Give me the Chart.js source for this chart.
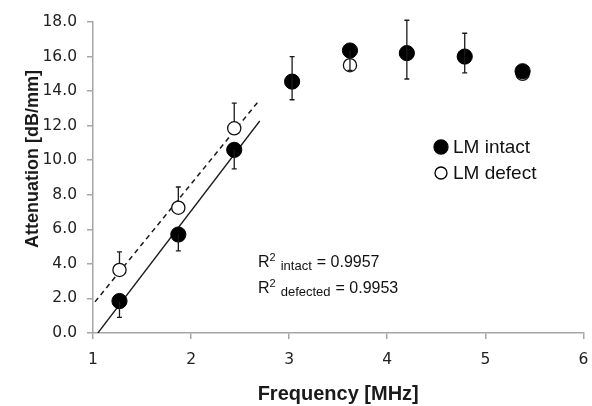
<!DOCTYPE html>
<html>
<head>
<meta charset="utf-8">
<script src="https://cdn.jsdelivr.net/npm/chart.js@4/dist/chart.umd.min.js"></script>
<style>
html,body{margin:0;padding:0;background:#fff;}
#wrap{width:592px;height:406px;}
</style>
</head>
<body>
<div id="wrap"><canvas id="c" width="592" height="406"></canvas></div>
<script>
// ---- data ----
const freqMHz        = [1.27, 1.87, 2.44, 3.03, 3.62, 4.20, 4.79, 5.38];
const intactAtt      = [1.85, 5.7, 10.6, 14.55, 16.35, 16.2, 16.0, 15.15];
const intactErrHigh  = [null, null, null, 16.0, null, 18.1, 17.35, null];
const intactErrLow   = [0.9, 4.75, 9.5, 13.5, 15.2, 14.7, 15.05, null];
const defectAtt      = [3.65, 7.25, 11.85, 14.55, 15.5, 16.2, 16.0, 15.0];
const defectErrHigh  = [4.7, 8.45, 13.3, null, null, null, null, null];
const defectErrLow   = [null, null, null, null, null, null, null, null];
const fitIntactX     = [1.05, 2.70];
const fitIntactY     = [0, 12.27];
const fitDefectX     = [1.02, 2.70];
const fitDefectY     = [1.8, 13.5];
const seriesLabels   = ['LM intact', 'LM defect'];
const r2Labels       = [['intact', '0.9957'], ['defected', '0.9953']];
const xTitle = 'Frequency [MHz]';
const yTitle = 'Attenuation [dB/mm]';

const toPts = (xs, ys) => xs.map((x, i) => ({x: x, y: ys[i]}));
const errInfo = {
  0: {hi: intactErrHigh, lo: intactErrLow, front: true},
  1: {hi: defectErrHigh, lo: defectErrLow, front: false}
};

function drawErr(chart, front) {
  const ctx = chart.ctx, xs = chart.scales.x, ys = chart.scales.y;
  ctx.save();
  ctx.strokeStyle = '#1a1a1a';
  ctx.lineWidth = 1.3;
  Object.keys(errInfo).forEach(k => {
    const e = errInfo[k];
    if (e.front !== front) return;
    const vals = chart.data.datasets[k].data;
    vals.forEach((p, i) => {
      const px = xs.getPixelForValue(p.x), py = ys.getPixelForValue(p.y);
      [e.hi[i], e.lo[i]].forEach(v => {
        if (v === null || v === undefined) return;
        const ey = ys.getPixelForValue(v);
        ctx.beginPath();
        ctx.moveTo(px, py); ctx.lineTo(px, ey);
        ctx.moveTo(px - 2.5, ey); ctx.lineTo(px + 2.5, ey);
        ctx.stroke();
      });
    });
  });
  ctx.restore();
}

const errorBars = {
  id: 'errorBars',
  beforeDatasetsDraw(chart) { drawErr(chart, false); },
  afterDatasetsDraw(chart) { drawErr(chart, true); }
};

const extras = {
  id: 'extras',
  afterDraw(chart) {
    const ctx = chart.ctx;
    ctx.save();
    // y title
    ctx.fillStyle = '#1a1a1a';
    ctx.font = 'bold 18px "Liberation Sans", Arial, sans-serif';
    ctx.textAlign = 'center';
    ctx.textBaseline = 'middle';
    ctx.translate(33, 159);
    ctx.rotate(-Math.PI / 2);
    ctx.fillText(yTitle, 0, 0);
    ctx.restore();

    // legend
    ctx.save();
    const lx = 441, ly = [147, 173];
    chart.data.datasets.slice(0, 2).forEach((ds, i) => {
      ctx.beginPath();
      ctx.arc(lx, ly[i], i === 0 ? 7 : 6, 0, Math.PI * 2);
      ctx.fillStyle = ds.backgroundColor;
      ctx.fill();
      ctx.lineWidth = 1.3;
      ctx.strokeStyle = '#000';
      ctx.stroke();
      ctx.fillStyle = '#111';
      ctx.font = '19px "Liberation Sans", Arial, sans-serif';
      ctx.textAlign = 'left';
      ctx.textBaseline = 'middle';
      ctx.fillText(seriesLabels[i], lx + 12, ly[i] + 1);
    });
    ctx.restore();

    // R^2 annotations
    ctx.save();
    ctx.fillStyle = '#111';
    ctx.textBaseline = 'alphabetic';
    ctx.textAlign = 'left';
    const bases = [267, 293];
    r2Labels.forEach((r, i) => {
      let x = 258, b = bases[i];
      ctx.font = '16px "Liberation Sans", Arial, sans-serif';
      ctx.fillText('R', x, b); x += ctx.measureText('R').width;
      ctx.font = '11px "Liberation Sans", Arial, sans-serif';
      ctx.fillText('2', x, b - 6); x += ctx.measureText('2').width + 5;
      ctx.font = '13px "Liberation Sans", Arial, sans-serif';
      ctx.fillText(r[0], x, b + 3); x += ctx.measureText(r[0]).width + 5;
      ctx.font = '16px "Liberation Sans", Arial, sans-serif';
      ctx.fillText('= ' + r[1], x, b);
    });
    ctx.restore();
  }
};

const axisGrey = '#a6a6a6';
const tickFont = {family: '"DejaVu Sans", sans-serif', size: 15.5};
new Chart(document.getElementById('c'), {
  type: 'scatter',
  data: {
    datasets: [
      {label: seriesLabels[0], data: toPts(freqMHz, intactAtt), pointRadius: 7.6, pointBackgroundColor: '#000', backgroundColor: '#000', pointBorderColor: '#000', pointBorderWidth: 1, showLine: false},
      {label: seriesLabels[1], data: toPts(freqMHz, defectAtt), pointRadius: 6.6, pointBackgroundColor: '#fff', backgroundColor: '#fff', pointBorderColor: '#111', pointBorderWidth: 1.3, showLine: false},
      {label: 'fit intact', data: toPts(fitIntactX, fitIntactY), showLine: true, pointRadius: 0, borderColor: '#1a1a1a', borderWidth: 1.3},
      {label: 'fit defect', data: toPts(fitDefectX, fitDefectY), showLine: true, pointRadius: 0, borderColor: '#1a1a1a', borderWidth: 1.5, borderDash: [5, 4]}
    ]
  },
  options: {
    responsive: false,
    animation: false,
    events: [],
    layout: {padding: {top: 22, right: 8, left: 0, bottom: 0}},
    plugins: {legend: {display: false}, tooltip: {enabled: false}},
    scales: {
      x: {
        type: 'linear', min: 1, max: 6,
        ticks: {stepSize: 1, padding: 12, color: '#222', font: tickFont},
        grid: {drawOnChartArea: false, color: axisGrey, tickLength: 6, lineWidth: 1.5},
        border: {color: axisGrey, width: 1.5},
        title: {display: true, text: xTitle, color: '#1a1a1a', font: {family: '"Liberation Sans", Arial, sans-serif', size: 20, weight: 'bold'}, padding: {top: 0, bottom: 0}},
        afterFit(s) { s.height = 73; s.paddingLeft = 0; s.paddingRight = 0; }
      },
      y: {
        type: 'linear', min: 0, max: 18,
        ticks: {stepSize: 2, padding: 10, color: '#222', callback: v => Number(v).toFixed(1), font: tickFont},
        grid: {drawOnChartArea: false, color: axisGrey, tickLength: 6, lineWidth: 1.5},
        border: {color: axisGrey, width: 1.5},
        afterFit(s) { s.width = 93; s.paddingTop = 0; s.paddingBottom = 0; }
      }
    }
  },
  plugins: [errorBars, extras]
});
</script>
</body>
</html>
